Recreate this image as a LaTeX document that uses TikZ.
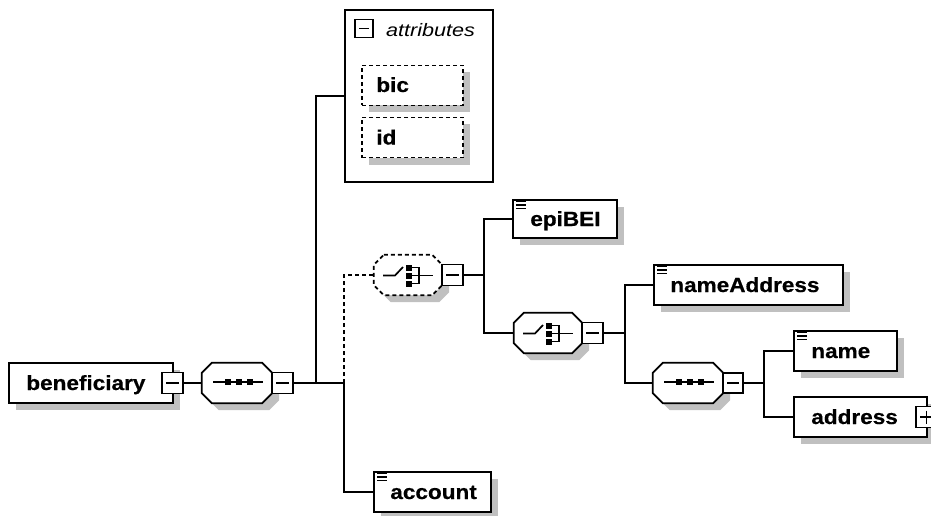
\documentclass[tikz,border=0pt]{standalone}
\usepackage{fontspec}
\setmainfont{Liberation Sans}[FakeStretch=1.1, BoldFeatures={FakeBold=0.5}]
\newfontfamily\attrfont{Liberation Sans}[FakeStretch=1.2]
\usetikzlibrary{calc,shadows}
\definecolor{shadowgray}{RGB}{192,192,192}
\tikzset{
  lw/.style={line width=1.7pt},
  shad/.style={general shadow={fill=shadowgray, shadow xshift=7pt, shadow yshift=-7pt}},
  elem/.style={draw, lw, fill=white, inner sep=0pt, shad},
  attbox/.style={draw, lw, dash pattern=on 4pt off 3pt, fill=white, inner sep=0pt, shad},
  plainbox/.style={draw, lw, fill=white, inner sep=0pt},
  holder/.style={inner sep=0pt, minimum width=68pt, minimum height=40pt},
  minusbox/.style={draw, lw, fill=white, inner sep=0pt, minimum size=21pt,
    path picture={\draw[line width=1.4pt] ($(path picture bounding box.west)+(4,0)$) -- ($(path picture bounding box.east)+(-4,0)$);}},
  plusbox/.style={draw, lw, fill=white, inner sep=0pt, minimum size=21pt,
    path picture={\draw[line width=1.4pt] ($(path picture bounding box.west)+(4,0)$) -- ($(path picture bounding box.east)+(-4,0)$);
                  \draw[line width=1.4pt] ($(path picture bounding box.north)+(0,4)$) -- ($(path picture bounding box.south)+(0,-4)$);}},
  lbl/.style={anchor=base west, inner sep=0pt, font=\fontsize{20.5}{24}\selectfont\bfseries},
  conn/.style={lw},
  optconn/.style={lw, dash pattern=on 4pt off 3pt},
  sym/.style={line width=1.7pt},
  octo/.style={lw, fill=white},
}
\newcommand\octpath[3]{($(#1.north west)+(10+#2,#3)$) -- ($(#1.north east)+(-10+#2,#3)$) -- ($(#1.north east)+(#2,10+#3)$) -- ($(#1.south east)+(#2,-10+#3)$) -- ($(#1.south east)+(-10+#2,#3)$) -- ($(#1.south west)+(10+#2,#3)$) -- ($(#1.south west)+(#2,-10+#3)$) -- ($(#1.north west)+(#2,10+#3)$) -- cycle}
\newcommand\drawocto[2]{\fill[fill=shadowgray] \octpath{#1}{7}{7};\draw[octo,#2] \octpath{#1}{0}{0};}
\newcommand\seqsym[1]{%
  \draw[sym] ($(#1.center)+(-24,-1)$) -- ($(#1.center)+(26,-1)$);
  \foreach \dx in {-9,2,13}{\fill ($(#1.center)+(\dx-3,-4)$) rectangle ++(6,6);}}
\newcommand\chosym[1]{%
  \draw[sym] ($(#1.center)+(-25,0.5)$) -- ($(#1.center)+(-13,0.5)$) -- ($(#1.center)+(-5,-8)$);
  \foreach \dy in {-7.5,0.5,8.5}{\fill ($(#1.center)+(-2.5,\dy-3)$) rectangle ++(6,6);}
  \draw[sym] ($(#1.center)+(3,-7.5)$) -- ($(#1.center)+(11,-7.5)$) -- ($(#1.center)+(11,8.5)$) -- ($(#1.center)+(3,8.5)$);
  \draw[sym] ($(#1.center)+(3,0.5)$) -- ($(#1.center)+(25,0.5)$);}
\newcommand\simplemark[1]{%
  \foreach \yy in {2.5,5.8,9.1}{\draw[line width=1.1pt] ($(#1.north west)+(4,\yy)$) -- ++(10,0);}}
\begin{document}
\begin{tikzpicture}[x=1pt,y=-1pt]
\useasboundingbox (0,0) rectangle (931,516);
\fill[white] (0,0) rectangle (931,516);

% junction coordinates
\coordinate (j1) at (316,383);
\coordinate (j2) at (344,383);
\coordinate (j3) at (484,275);
\coordinate (j4) at (625,333);
\coordinate (j5) at (764,383);

% beneficiary
\node[elem, minimum width=164pt, minimum height=40pt] (ben) at (91,383) {};
\node[lbl] (benT) at ($(ben.west)+(18,7)$) {beneficiary};
\node[minusbox] (benm) at (172.5,383) {};

% sequence 1
\node[holder, minimum width=70pt] (seq1) at (237,383) {};
\drawocto{seq1}{}
\seqsym{seq1}
\node[minusbox] (seq1m) at (282.5,383) {};

% attributes
\node[plainbox, minimum width=148pt, minimum height=172pt] (attr) at (419,96) {};
\node[minusbox, minimum size=18pt] (attrm) at (364,28.5) {};
\node[anchor=base west, inner sep=0pt, font=\attrfont\fontsize{18}{22}\selectfont\itshape] (attrT) at (386,37) {attributes};
\node[attbox, minimum width=101pt, minimum height=40pt] (bic) at (412.5,85.5) {};
\node[lbl] (bicT) at ($(bic.west)+(15,6.5)$) {bic};
\node[attbox, minimum width=101pt, minimum height=40pt] (id) at (412.5,137.5) {};
\node[lbl] (idT) at ($(id.west)+(15,7)$) {id};

% optional choice
\node[holder] (ch1) at (408,275) {};
\drawocto{ch1}{dash pattern=on 4pt off 3pt}
\chosym{ch1}
\node[minusbox] (ch1m) at (452.5,275) {};

% epiBEI
\node[elem, minimum width=104pt, minimum height=38pt] (epi) at (565,219) {};
\simplemark{epi}
\node[lbl] (epiT) at ($(epi.west)+(18,7)$) {epiBEI};

% choice 2
\node[holder] (ch2) at (548,333) {};
\drawocto{ch2}{}
\chosym{ch2}
\node[minusbox] (ch2m) at (592.5,333) {};

% nameAddress
\node[elem, minimum width=189pt, minimum height=40pt] (na) at (748.5,285) {};
\simplemark{na}
\node[lbl] (naT) at ($(na.west)+(17,7)$) {nameAddress};

% sequence 3
\node[holder, minimum width=70pt] (seq3) at (688,383) {};
\drawocto{seq3}{}
\seqsym{seq3}
\node[minusbox, minimum size=20pt] (seq3m) at (733,383) {};

% name
\node[elem, minimum width=103pt, minimum height=40pt] (name) at (845.5,351) {};
\simplemark{name}
\node[lbl] (nameT) at ($(name.west)+(18,7)$) {name};

% address
\node[elem, minimum width=133pt, minimum height=40pt] (addr) at (860.5,417) {};
\node[lbl] (addrT) at ($(addr.west)+(18,7)$) {address};
\node[plusbox] (addrp) at (926.5,417) {};

% account
\node[elem, minimum width=117pt, minimum height=40pt] (acc) at (432.5,492) {};
\simplemark{acc}
\node[lbl] (accT) at ($(acc.west)+(17,7)$) {account};

% connectors
\draw[conn] (benm.east) -- (seq1.west);
\draw[conn] (seq1m.east) -- (j2);
\draw[conn] (j1) |- (attr.west);
\draw[optconn] (j2) |- (ch1.west);
\draw[conn] (j2) |- (acc.west);
\draw[conn] (ch1m.east) -- (j3);
\draw[conn] (epi.west) -| (j3) |- (ch2.west);
\draw[conn] (ch2m.east) -- (j4);
\draw[conn] (na.west) -| (j4) |- (seq3.west);
\draw[conn] (seq3m.east) -- (j5);
\draw[conn] (name.west) -| (j5) |- (addr.west);
\end{tikzpicture}
\end{document}
